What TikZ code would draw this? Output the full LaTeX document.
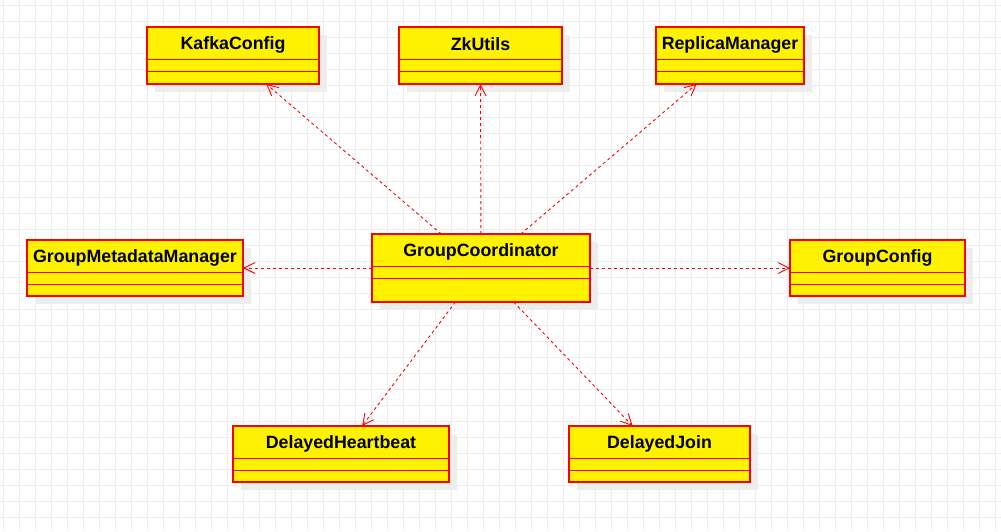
\documentclass[tikz,border=0pt]{standalone}
\usepackage{fontspec}
\setmainfont{Liberation Sans}
\usetikzlibrary{arrows.meta}
\begin{document}
\begin{tikzpicture}[x=1pt, y=-1pt,
    griglia/.style={draw=black!7, line width=1pt},
    ombra/.style={fill=black!7},
    classe/.style={draw=red, fill=yellow, line width=1.2pt, inner sep=0pt, outer sep=0pt, anchor=north west},
    titolo/.style={inner sep=0pt, font=\fontsize{17.8}{20}\selectfont\bfseries},
    dipende/.style={draw=red, line width=0.9pt, dash pattern=on 3pt off 3pt,
      -{Straight Barb[length=11pt,width=11pt]}}]
  \useasboundingbox (0,0) rectangle (1001,531);

  % Griglia di sfondo
  \foreach \gx in {3,19,...,995}
    \draw[griglia] (\gx,0) -- (\gx,531);
  \foreach \gy in {5,21,...,517}
    \draw[griglia] (0,\gy) -- (1001,\gy);

  % Classi: nome / x / y / larghezza / altezza / testo
  \foreach \id/\x/\y/\w/\h/\testo in {
      kafka/147/27/172/57/KafkaConfig,
      zk/399/27/163/57/ZkUtils,
      replica/656/27/148/57/ReplicaManager,
      gmm/27/240/216/56/GroupMetadataManager,
      gc/372/234/218/68/GroupCoordinator,
      gconf/790/240/175/56/GroupConfig,
      hb/233/426/216/56/DelayedHeartbeat,
      join/569/426/181/56/DelayedJoin}{
    \fill[ombra] (\x+8,\y+8) rectangle ++(\w,\h);
    \node[classe, minimum width=\w, minimum height=\h] (\id) at (\x,\y) {};
    \node[titolo] (\id-nome) at ([yshift=-17.5]\id.north) {\testo};
    \draw[red, line width=1.2pt] ([yshift=-32.5]\id.north west) -- ([yshift=-32.5]\id.north east);
    \draw[red, line width=1.2pt] ([yshift=-44.5]\id.north west) -- ([yshift=-44.5]\id.north east);
  }

  % Dipendenze
  \foreach \dest in {kafka,zk,replica,gmm,gconf,hb,join}
    \draw[dipende] (gc) -- (\dest);
\end{tikzpicture}
\end{document}
